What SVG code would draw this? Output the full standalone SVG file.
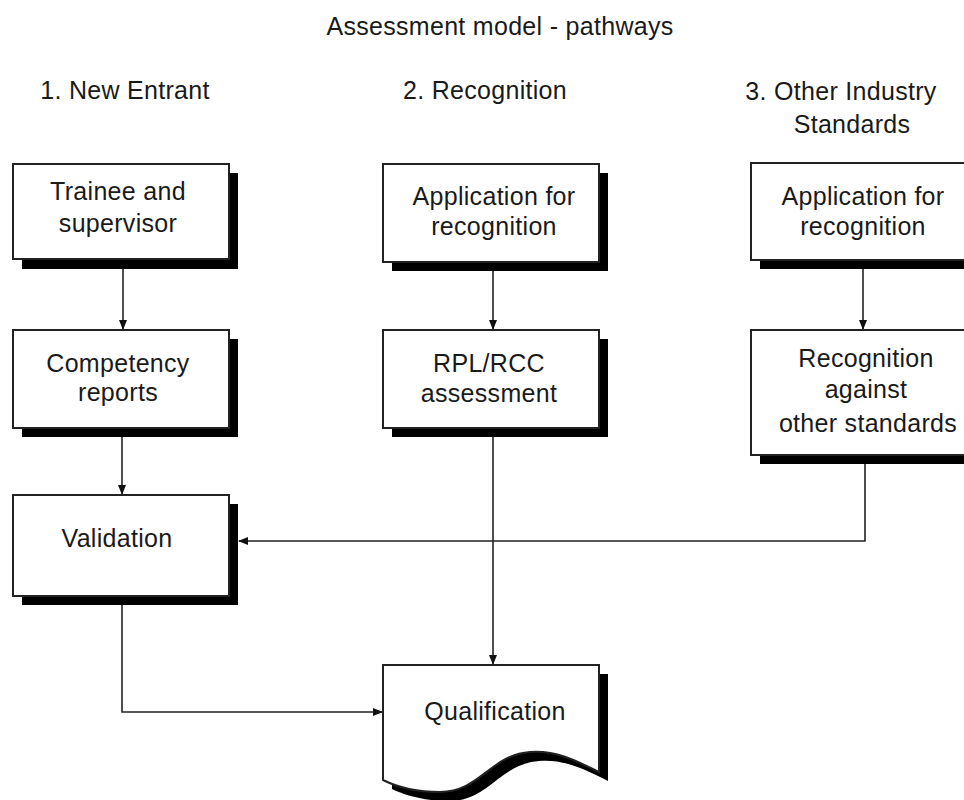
<svg xmlns="http://www.w3.org/2000/svg" width="964" height="800" viewBox="0 0 964 800">
<style>
text{font-family:"Liberation Sans",Arial,sans-serif;font-size:25px;letter-spacing:0.3px;fill:#1a1a1a;text-anchor:middle}
.box{fill:#fff;stroke:#222;stroke-width:2}
.sh{fill:#000}
.con{fill:none;stroke:#222;stroke-width:1.6}
</style>
<defs>
<marker id="ah" markerWidth="10" markerHeight="8" refX="9" refY="4" orient="auto" markerUnits="userSpaceOnUse">
<path d="M0,0 L10,4 L0,8 Z" fill="#111"/>
</marker>
</defs>
<rect width="964" height="800" fill="#fff"/>
<text x="500" y="35">Assessment model - pathways</text>
<text x="125" y="99">1. New Entrant</text>
<text x="485" y="99">2. Recognition</text>
<text x="841" y="100">3. Other Industry</text>
<text x="852" y="133">Standards</text>

<g id="connectors">
<path class="con" d="M123,268 V329" marker-end="url(#ah)"/>
<path class="con" d="M493,270 V329" marker-end="url(#ah)"/>
<path class="con" d="M863,269 V329" marker-end="url(#ah)"/>
<path class="con" d="M122,437 V494" marker-end="url(#ah)"/>
<path class="con" d="M865,464 V541 H239" marker-end="url(#ah)"/>
<path class="con" d="M493,437 V664" marker-end="url(#ah)"/>
<path class="con" d="M122,605 V712 H382" marker-end="url(#ah)"/>
</g>

<g id="trainee">
<rect class="sh" x="22" y="173" width="216" height="96"/>
<rect class="box" x="13" y="164" width="216" height="95"/>
<text x="118" y="200">Trainee and</text>
<text x="118" y="232">supervisor</text>
</g>
<g id="competency">
<rect class="sh" x="22" y="339" width="216" height="98"/>
<rect class="box" x="13" y="330" width="216" height="98"/>
<text x="118" y="372">Competency</text>
<text x="118" y="401">reports</text>
</g>
<g id="validation">
<rect class="sh" x="22" y="504" width="216" height="101"/>
<rect class="box" x="13" y="495" width="216" height="101"/>
<text x="117" y="547">Validation</text>
</g>
<g id="app2">
<rect class="sh" x="392" y="173" width="216" height="98"/>
<rect class="box" x="383" y="164" width="216" height="98"/>
<text x="494" y="205">Application for</text>
<text x="494" y="235">recognition</text>
</g>
<g id="rpl">
<rect class="sh" x="392" y="339" width="216" height="98"/>
<rect class="box" x="383" y="330" width="216" height="98"/>
<text x="489" y="372">RPL/RCC</text>
<text x="489" y="402">assessment</text>
</g>
<g id="app3">
<rect class="sh" x="760" y="172" width="216" height="97"/>
<rect class="box" x="751" y="163" width="216" height="97"/>
<text x="863" y="205">Application for</text>
<text x="863" y="235">recognition</text>
</g>
<g id="recognition">
<rect class="sh" x="760" y="339" width="216" height="125"/>
<rect class="box" x="751" y="330" width="216" height="125"/>
<text x="866" y="367">Recognition</text>
<text x="866" y="398">against</text>
<text x="868" y="432">other standards</text>
</g>
<g id="qualification">
<path class="sh" transform="translate(9,9)" d="M383,665 H599 V772 C575,760 555,750 530,752 C490,755 480,792 440,792 C415,792 395,786 383,780 Z"/>
<path class="box" d="M383,665 H599 V772 C575,760 555,750 530,752 C490,755 480,792 440,792 C415,792 395,786 383,780 Z"/>
<text x="495" y="720">Qualification</text>
</g>
</svg>
